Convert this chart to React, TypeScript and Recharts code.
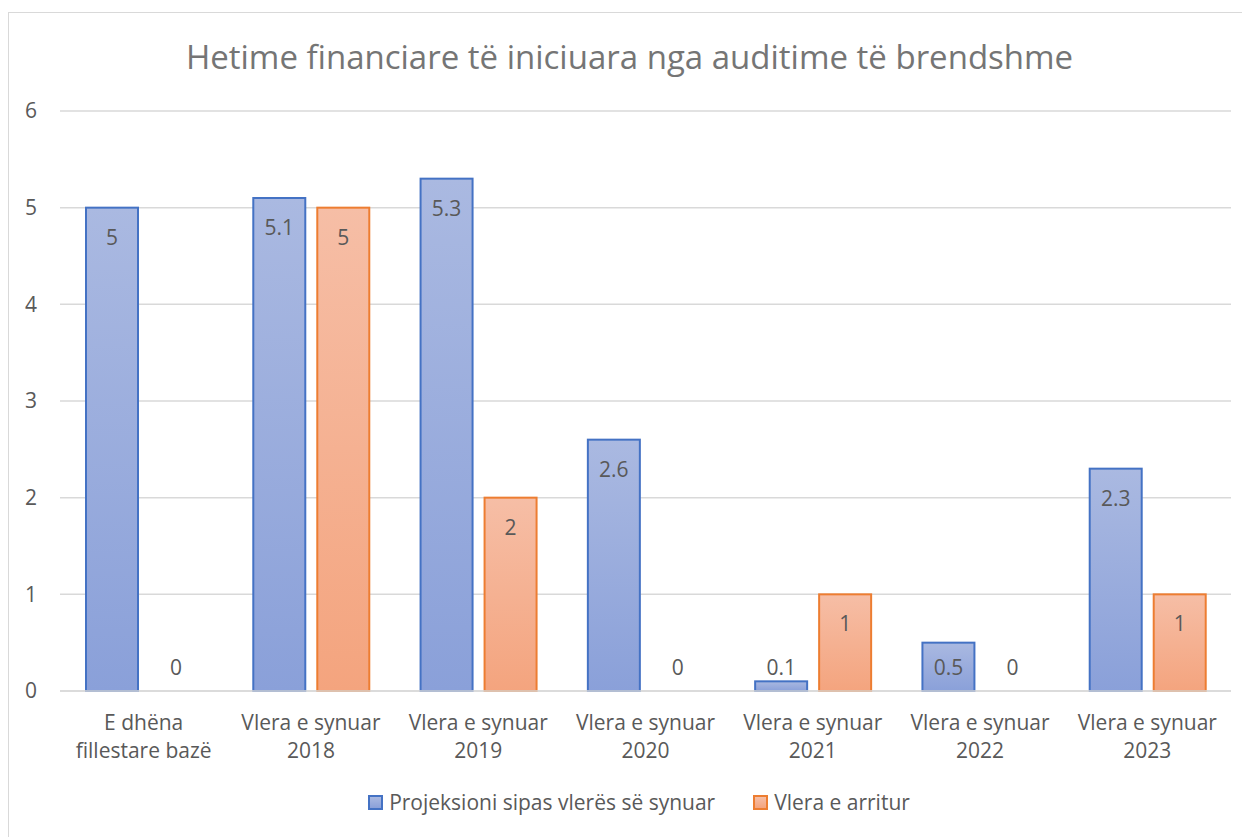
import { Bar, BarChart, CartesianGrid, Legend, XAxis, YAxis } from "recharts";

const categories = [
  "E dhëna fillestare bazë",
  "Vlera e synuar 2018",
  "Vlera e synuar 2019",
  "Vlera e synuar 2020",
  "Vlera e synuar 2021",
  "Vlera e synuar 2022",
  "Vlera e synuar 2023",
];

const tickLines = [
  ["E dhëna", "fillestare bazë"],
  ["Vlera e synuar", "2018"],
  ["Vlera e synuar", "2019"],
  ["Vlera e synuar", "2020"],
  ["Vlera e synuar", "2021"],
  ["Vlera e synuar", "2022"],
  ["Vlera e synuar", "2023"],
];

const projected = [5, 5.1, 5.3, 2.6, 0.1, 0.5, 2.3];
const achieved = [0, 5, 2, 0, 1, 0, 1];
const yTicks = [0, 1, 2, 3, 4, 5, 6];

const seriesNames = ["Projeksioni sipas vlerës së synuar", "Vlera e arritur"];

const data = categories.map((name, i) => ({
  name,
  projected: projected[i],
  achieved: achieved[i],
}));

const FONT = '"Open Sans", sans-serif';
const TEXT = "#595959";
const GRID = "#d9d9d9";

const blue = { top: "#aab9e1", bottom: "#8aa0d9", line: "#4472c4", grad: "url(#blueGrad)" };
const orange = { top: "#f6bea6", bottom: "#f4a47e", line: "#ed7d31", grad: "url(#orangeGrad)" };

function CategoryTick(props: any) {
  const { x, y, payload } = props;
  const idx = categories.indexOf(payload.value);
  const lines = tickLines[idx] || [payload.value];
  return (
    <g>
      {lines.map((line, i) => (
        <text
          key={i}
          x={x}
          y={y + 31 + i * 28}
          textAnchor="middle"
          dominantBaseline="central"
          fill={TEXT}
          fontSize={21}
          fontFamily={FONT}
        >
          {line}
        </text>
      ))}
    </g>
  );
}

// bar + value label drawn together so zero values still get their "0"
function makeBarShape(key: "projected" | "achieved", color: typeof blue) {
  return function BarShape(props: any) {
    const x = Number(props.x);
    const y = Number(props.y);
    const width = Number(props.width);
    const height = Number(props.height) || 0;
    const value = props.payload ? props.payload[key] : props.value;
    const base = y + height;
    const cy = Math.min(y + 29, base - 24);
    return (
      <g>
        {height > 0 && (
          <rect
            x={x}
            y={y}
            width={width}
            height={height}
            fill={color.grad}
            stroke={color.line}
            strokeWidth={2}
          />
        )}
        <text
          x={x + width / 2}
          y={cy}
          textAnchor="middle"
          dominantBaseline="central"
          fill={TEXT}
          fontSize={21}
          fontFamily={FONT}
        >
          {value}
        </text>
      </g>
    );
  };
}

const ProjectedShape = makeBarShape("projected", blue);
const AchievedShape = makeBarShape("achieved", orange);

function LegendContent() {
  const colors = [blue, orange];
  return (
    <div
      style={{
        display: "flex",
        justifyContent: "center",
        alignItems: "center",
        gap: 38,
        height: 40,
        paddingLeft: 38,
        fontFamily: FONT,
        fontSize: 21,
        color: TEXT,
      }}
    >
      {seriesNames.map((name, i) => (
        <div key={name} style={{ display: "flex", alignItems: "center", gap: 6 }}>
          <span
            style={{
              display: "inline-block",
              width: 11,
              height: 11,
              border: `2px solid ${colors[i].line}`,
              background: `linear-gradient(${colors[i].top}, ${colors[i].bottom})`,
            }}
          />
          <span>{name}</span>
        </div>
      ))}
    </div>
  );
}

export default function App() {
  return (
    <div style={{ paddingTop: 4 }}>
      <div
        style={{
          position: "relative",
          width: 1241,
          height: 824,
          borderLeft: `1px solid ${GRID}`,
          borderTop: `1px solid ${GRID}`,
          background: "#fff",
        }}
      >
        <div
          style={{
            position: "absolute",
            top: 24,
            left: 0,
            width: "100%",
            lineHeight: "40px",
            textAlign: "center",
            fontFamily: FONT,
            fontSize: 33,
            color: "#757575",
          }}
        >
          Hetime financiare të iniciuara nga auditime të brendshme
        </div>
        <BarChart
          width={1241}
          height={824}
          data={data}
          margin={{ top: 98, right: 19, left: 0, bottom: 15 }}
          barGap={12}
        >
          <defs>
            <linearGradient id="blueGrad" x1="0" y1="0" x2="0" y2="1">
              <stop offset="0%" stopColor={blue.top} />
              <stop offset="100%" stopColor={blue.bottom} />
            </linearGradient>
            <linearGradient id="orangeGrad" x1="0" y1="0" x2="0" y2="1">
              <stop offset="0%" stopColor={orange.top} />
              <stop offset="100%" stopColor={orange.bottom} />
            </linearGradient>
          </defs>
          <CartesianGrid vertical={false} stroke={GRID} strokeWidth={1.5} />
          <XAxis
            dataKey="name"
            height={91}
            interval={0}
            tickLine={false}
            tickSize={0}
            tickMargin={0}
            axisLine={{ stroke: GRID, strokeWidth: 1.5 }}
            tick={<CategoryTick />}
          />
          <YAxis
            width={51}
            domain={[0, 6]}
            ticks={yTicks}
            axisLine={false}
            tickLine={false}
            tickMargin={17}
            tick={{ fill: TEXT, fontSize: 21, fontFamily: FONT }}
          />
          <Legend verticalAlign="bottom" height={40} content={<LegendContent />} />
          <Bar
            dataKey="projected"
            name={seriesNames[0]}
            fill={blue.grad}
            stroke={blue.line}
            barSize={52}
            shape={ProjectedShape}
            isAnimationActive={false}
          />
          <Bar
            dataKey="achieved"
            name={seriesNames[1]}
            fill={orange.grad}
            stroke={orange.line}
            barSize={52}
            shape={AchievedShape}
            isAnimationActive={false}
          />
        </BarChart>
      </div>
    </div>
  );
}
